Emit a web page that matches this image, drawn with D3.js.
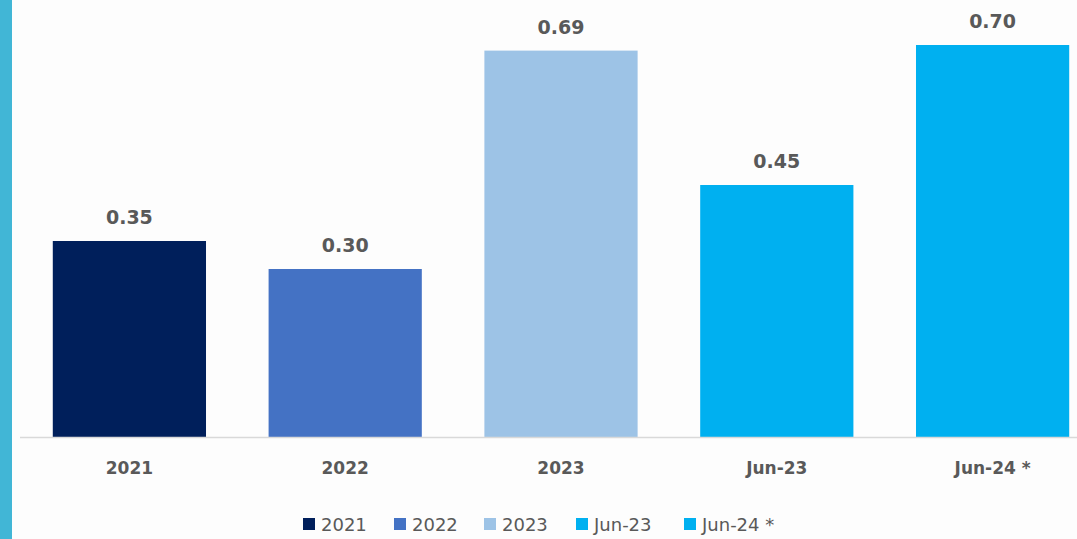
<!DOCTYPE html>
<html>
<head>
<meta charset="utf-8">
<script src="https://cdn.jsdelivr.net/npm/d3@7"></script>
<style>
  body { margin: 0; background: #fdfdfd; }
  text { font-family: "DejaVu Sans", sans-serif; fill: #595959; }
</style>
</head>
<body>
<div class="bar-chart"></div>
<script>
const categories = ['2021', '2022', '2023', 'Jun-23', 'Jun-24 *'];
const values = [0.35, 0.30, 0.69, 0.45, 0.70];
const colors = ['#001f5b', '#4472c4', '#9dc3e6', '#00b0f0', '#00b0f0'];

const W = 1077, H = 539;
const baseline = 437;

const svg = d3.select('.bar-chart').append('svg')
	.attr('width', W)
	.attr('height', H);

svg.append('rect')
	.attr('width', W).attr('height', H)
	.attr('fill', '#fdfdfd');

// teal strip on the left edge
svg.append('rect')
	.attr('x', 0).attr('y', 0)
	.attr('width', 12).attr('height', H)
	.attr('fill', '#41b6d6');

const xScale = d3.scaleBand()
	.domain(categories)
	.range([21.5, 1100.5])
	.paddingInner(0.29)
	.paddingOuter(0.145);

const yScale = d3.scaleLinear()
	.domain([0, 0.70])
	.range([baseline, 45]);

const data = categories.map((c, i) => ({cat: c, value: values[i], color: colors[i]}));

// bars
svg.selectAll('.bar')
	.data(data)
	.enter()
	.append('rect')
	.attr('class', 'bar')
	.attr('x', d => xScale(d.cat))
	.attr('y', d => yScale(d.value))
	.attr('width', xScale.bandwidth())
	.attr('height', d => baseline - yScale(d.value))
	.attr('fill', d => d.color);

// axis line
svg.append('line')
	.attr('x1', 20).attr('x2', W)
	.attr('y1', baseline + 0.5).attr('y2', baseline + 0.5)
	.attr('stroke', '#d9d9d9')
	.attr('stroke-width', 1.5);

// value labels
svg.selectAll('.val')
	.data(data)
	.enter()
	.append('text')
	.attr('class', 'val')
	.attr('x', d => xScale(d.cat) + xScale.bandwidth() / 2)
	.attr('y', d => yScale(d.value) - 17)
	.attr('text-anchor', 'middle')
	.style('font-size', '19px')
	.style('font-weight', 'bold')
	.text(d => d.value.toFixed(2));

// category labels
svg.selectAll('.cat')
	.data(data)
	.enter()
	.append('text')
	.attr('class', 'cat')
	.attr('x', d => xScale(d.cat) + xScale.bandwidth() / 2)
	.attr('y', 474)
	.attr('text-anchor', 'middle')
	.style('font-size', '17px')
	.style('font-weight', 'bold')
	.text(d => d.cat);

// legend
const legendX = [303, 394, 484, 576, 684];
const legend = svg.selectAll('.leg')
	.data(data)
	.enter()
	.append('g')
	.attr('class', 'leg')
	.attr('transform', (d, i) => `translate(${legendX[i]}, 518)`);

legend.append('rect')
	.attr('width', 12).attr('height', 12)
	.attr('fill', d => d.color);

legend.append('text')
	.attr('x', 18)
	.attr('y', 13)
	.style('font-size', '18px')
	.text(d => d.cat);
</script>
</body>
</html>
